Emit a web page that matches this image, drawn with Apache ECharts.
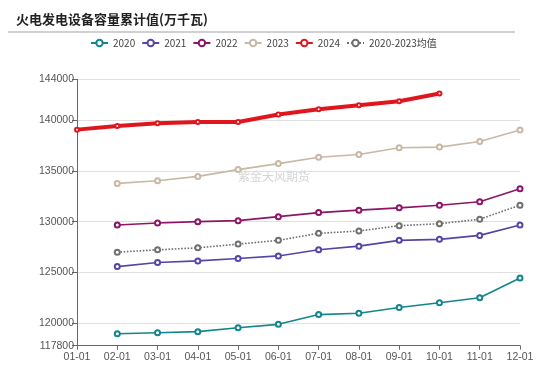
<!DOCTYPE html>
<html><head><meta charset="utf-8">
<script src="https://cdn.jsdelivr.net/npm/echarts@6/dist/echarts.min.js"></script>
<style>html,body{margin:0;padding:0;background:#fff}#c{width:550px;height:365px}</style>
</head><body><div id="c"></div>
<script>
var categories = ['01-01','02-01','03-01','04-01','05-01','06-01','07-01','08-01','09-01','10-01','11-01','12-01'];
var s2020 = [null,118980,119080,119180,119570,119900,120860,120990,121550,122020,122515,124455];
var s2021 = [null,125580,125980,126140,126380,126630,127230,127590,128160,128260,128650,129670];
var s2022 = [null,129670,129870,130000,130100,130490,130890,131130,131355,131620,131950,133240];
var s2023 = [null,133760,134030,134450,135120,135710,136335,136600,137270,137330,137890,139010];
var s2024 = [139050,139400,139670,139800,139800,140530,141060,141450,141850,142610,null,null];
var sAvg  = [null,127000,127230,127425,127790,128160,128850,129080,129600,129800,130240,131620];
var yTicks = [117800,120000,125000,130000,135000,140000,144000];
var seriesNames = ['2020','2021','2022','2023','2024','2020-2023均值'];

var chart = echarts.init(document.getElementById('c'), null, {renderer:'canvas'});
function ln(name, data, color, width, dashed){
  return {
    name:name, type:'line', data:data, symbol:'emptyCircle', symbolSize: width>3?4:5,
    showSymbol:true, connectNulls:false, animation:false,
    itemStyle:{color:color, borderWidth: width>3?1.5:1},
    lineStyle:{color:color, width:width, type: dashed?'dotted':'solid'},
    emphasis:{disabled:true}
  };
}
chart.setOption({
  backgroundColor:'#fff',
  animation:false,
  title:{text:'火电发电设备容量累计值(万千瓦)', left:11, top:8,
    textStyle:{fontSize:13, fontWeight:'bold', color:'#222', fontFamily:'Noto Sans CJK SC'}},
  graphic:[
    {type:'line', shape:{x1:8,y1:32,x2:515,y2:32}, style:{stroke:'#d0d0d0', lineWidth:2}, silent:true},
    {type:'text', left:238, top:170, style:{text:'紫金天风期货', fontSize:12, fill:'#d4d4d4', fontFamily:'Noto Sans CJK SC'}, silent:true, z:0}
  ],
  legend:{top:33, left:85, itemWidth:17, itemHeight:8, itemGap:6,
    data:seriesNames,
    textStyle:{fontSize:10, color:'#444', fontFamily:'Noto Sans CJK SC'}},
  grid:{left:77, right:30, top:79.3, bottom:19.3, containLabel:false, outerBounds:{left:0,right:0,top:0,bottom:0}},
  xAxis:{type:'category', data:categories, boundaryGap:false,
    axisLine:{lineStyle:{color:'#666', width:1}},
    axisTick:{show:true, alignWithLabel:true, length:4, lineStyle:{color:'#666'}},
    axisLabel:{color:'#555', fontSize:10.5, margin:6, interval:0, fontFamily:'Liberation Sans'},
    splitLine:{show:false}},
  yAxis:{type:'value', min:117800, max:144000,
    axisLine:{show:true, lineStyle:{color:'#666', width:1}},
    axisTick:{show:true, length:5, lineStyle:{color:'#666'}, customValues:yTicks},
    axisLabel:{color:'#555', fontSize:10.5, margin:3, customValues:yTicks, fontFamily:'Liberation Sans',
      formatter:function(v){return String(Math.round(v));}},
    splitLine:{show:true, lineStyle:{color:'#e0e0e0', width:1}, customValues:yTicks}},
  series:[
    ln('2020', s2020, '#13868c', 1.6),
    ln('2021', s2021, '#5745a6', 1.6),
    ln('2022', s2022, '#8c1568', 1.6),
    ln('2023', s2023, '#c8b8a5', 1.6),
    Object.assign(ln('2024', s2024, '#e0161f', 4), {z:5}),
    ln('2020-2023均值', sAvg, '#707070', 1.6, true)
  ]
});
</script></body></html>
